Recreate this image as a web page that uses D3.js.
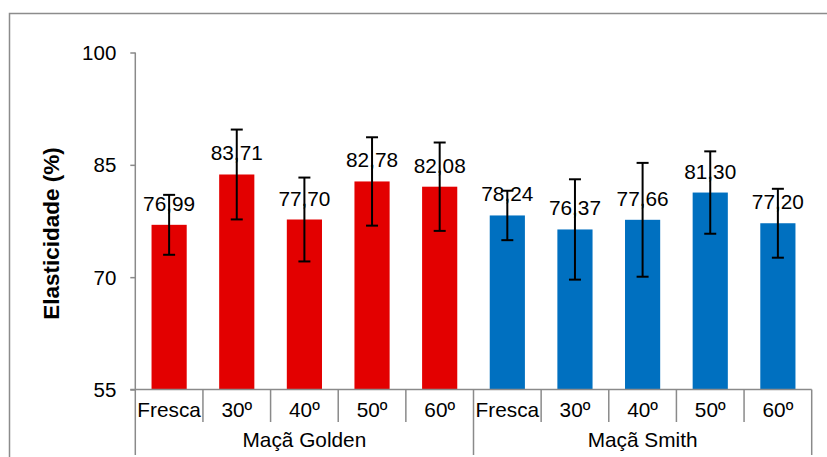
<!DOCTYPE html>
<html>
<head>
<meta charset="utf-8">
<script src="https://cdn.jsdelivr.net/npm/d3@7"></script>
<style>
  html, body { margin: 0; padding: 0; background: #fff; }
  svg { display: block; font-family: "Liberation Sans", Arial, sans-serif; }
</style>
</head>
<body>
<svg id="chart" width="827" height="457"></svg>
<script>
// ---- data ----
const groups = ["Maçã Golden", "Maçã Smith"];
const treatments = ["Fresca", "30º", "40º", "50º", "60º"];
const goldenValues = [76.99, 83.71, 77.70, 82.78, 82.08];
const smithValues = [78.24, 76.37, 77.66, 81.30, 77.20];
const goldenErrors = [4.0, 6.0, 5.6, 5.9, 5.9];
const smithErrors = [3.3, 6.7, 7.6, 5.5, 4.6];
const yTicks = [55, 70, 85, 100];
const yTitle = "Elasticidade (%)";

(function () {
const seriesValues = [goldenValues, smithValues];
const seriesErrors = [goldenErrors, smithErrors];
const groupColors = ["#e30000", "#0070c0"];

const rows = [];
groups.forEach((g, gi) => {
  treatments.forEach((t, ti) => {
    rows.push({ key: g + "|" + t, group: g, gi, label: t,
      value: seriesValues[gi][ti], err: seriesErrors[gi][ti] });
  });
});

const svg = d3.select("#chart");
const pLeft = 135.3, pRight = 811.7, pTop = 52.5, pBottom = 389.5;
const axisColor = "#8a8a8a";
const fs = 20.8;

// outer border (right side falls outside the picture)
svg.append("rect").attr("x", 9.5).attr("y", 13.5)
  .attr("width", 900).attr("height", 600)
  .attr("fill", "none").attr("stroke", "#8c8c8c").attr("stroke-width", 1.5);

const y = d3.scaleLinear().domain([55, 100]).range([pBottom, pTop]);
const cell = d3.scaleBand().domain(rows.map(d => d.key)).range([pLeft, pRight]).padding(0);
const bar = d3.scaleBand().domain(rows.map(d => d.key)).range([pLeft, pRight])
  .paddingInner(0.48).paddingOuter(0.24);

const fmt = d3.formatLocale({ decimal: ",", thousands: ".", grouping: [3], currency: ["", ""] }).format(".2f");

// bars
svg.append("g").selectAll("rect").data(rows).join("rect")
  .attr("x", d => bar(d.key))
  .attr("y", d => y(d.value))
  .attr("width", bar.bandwidth())
  .attr("height", d => y(55) - y(d.value))
  .attr("fill", d => groupColors[d.gi]);

// y axis
const yAxis = svg.append("g").attr("transform", `translate(${pLeft},0)`)
  .call(d3.axisLeft(y).tickValues(yTicks).tickSize(5).tickPadding(14).tickFormat(d3.format("d")));
yAxis.select(".domain").remove();
yAxis.selectAll(".tick line").attr("stroke", axisColor).attr("stroke-width", 1.5);
yAxis.selectAll(".tick text").attr("font-size", 20.5).attr("fill", "#000")
  .attr("font-family", "Liberation Sans, Arial, sans-serif").attr("dy", "0.34em");

// vertical axis line (extends down as the first group separator)
svg.append("line").attr("x1", pLeft).attr("x2", pLeft).attr("y1", pTop).attr("y2", 455)
  .attr("stroke", axisColor).attr("stroke-width", 1.5);

// horizontal axis line
svg.append("line").attr("x1", pLeft - 5).attr("x2", pRight).attr("y1", pBottom).attr("y2", pBottom)
  .attr("stroke", axisColor).attr("stroke-width", 1.5);

// category separators
const sepG = svg.append("g");
rows.forEach((d, i) => {
  if (i === 0) return;
  const xEdge = cell(d.key);
  const isGroupEdge = d.label === treatments[0];
  sepG.append("line").attr("x1", xEdge).attr("x2", xEdge)
    .attr("y1", pBottom).attr("y2", isGroupEdge ? 455 : 422)
    .attr("stroke", axisColor).attr("stroke-width", 1.5);
});
sepG.append("line").attr("x1", pRight).attr("x2", pRight).attr("y1", pBottom).attr("y2", 455)
  .attr("stroke", axisColor).attr("stroke-width", 1.5);

// category labels
svg.append("g").selectAll("text").data(rows).join("text")
  .attr("x", d => cell(d.key) + cell.bandwidth() / 2)
  .attr("y", 417)
  .attr("text-anchor", "middle").attr("font-size", fs).attr("fill", "#000")
  .text(d => d.label);

// group labels
svg.append("g").selectAll("text").data(groups).join("text")
  .attr("x", (g, gi) => {
    const ks = rows.filter(r => r.gi === gi).map(r => r.key);
    return (cell(ks[0]) + cell(ks[ks.length - 1]) + cell.bandwidth()) / 2;
  })
  .attr("y", 447)
  .attr("text-anchor", "middle").attr("font-size", fs).attr("fill", "#000")
  .text(g => g);

// value labels
svg.append("g").selectAll("text").data(rows).join("text")
  .attr("x", d => bar(d.key) + bar.bandwidth() / 2)
  .attr("y", d => y(d.value) - 14)
  .attr("text-anchor", "middle").attr("font-size", fs).attr("fill", "#000")
  .text(d => fmt(d.value));

// error bars
const eg = svg.append("g").attr("stroke", "#000").attr("stroke-width", 2);
rows.forEach(d => {
  const cx = bar(d.key) + bar.bandwidth() / 2;
  const y1 = y(d.value + d.err), y2 = y(d.value - d.err);
  eg.append("line").attr("x1", cx).attr("x2", cx).attr("y1", y1).attr("y2", y2);
  eg.append("line").attr("x1", cx - 6).attr("x2", cx + 6).attr("y1", y1).attr("y2", y1);
  eg.append("line").attr("x1", cx - 6).attr("x2", cx + 6).attr("y1", y2).attr("y2", y2);
});

// y axis title
svg.append("text")
  .attr("transform", `translate(59,${(143 + 324) / 2}) rotate(-90)`)
  .attr("text-anchor", "middle").attr("font-size", 22.5).attr("font-weight", "bold")
  .attr("fill", "#000").text(yTitle);
})();
</script>
</body>
</html>
